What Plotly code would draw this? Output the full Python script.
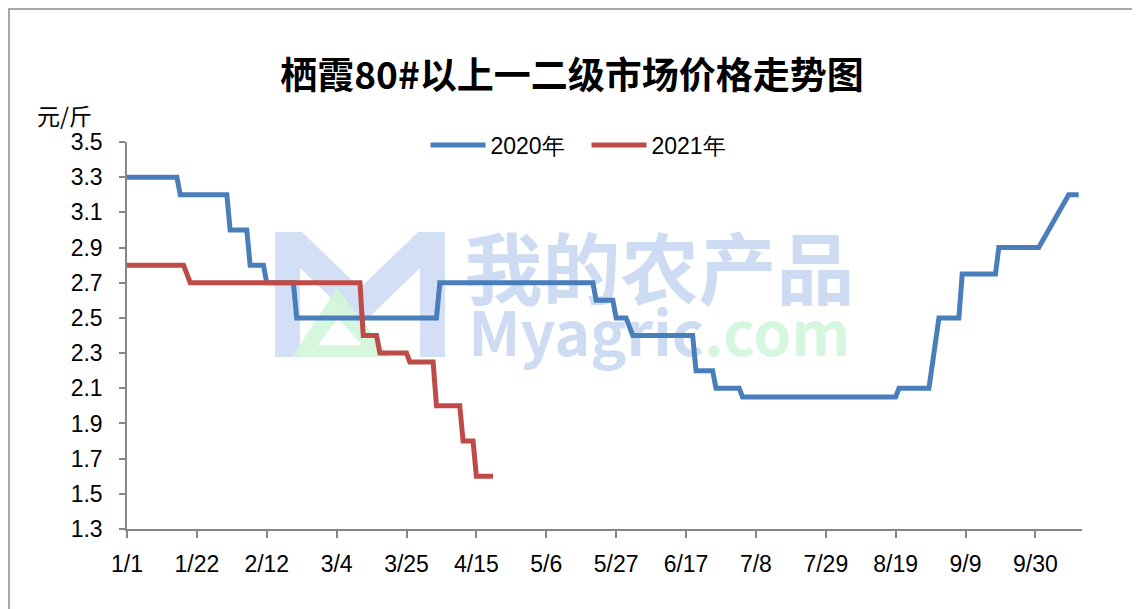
import plotly.graph_objects as go

# ---------------- data ----------------
year_axis = "2020"

dates_2020 = ["01-01", "01-16", "01-17", "01-31", "02-01", "02-06", "02-07", "02-11",
              "02-12", "02-20", "02-21", "04-03", "04-04", "05-20", "05-21", "05-26",
              "05-27", "05-30", "06-01", "06-19", "06-20", "06-25", "06-26", "07-03",
              "07-04", "08-19", "08-20", "08-29", "09-01", "09-07", "09-08", "09-18",
              "09-19", "10-01", "10-10", "10-13"]
values_2020 = [3.3, 3.3, 3.2, 3.2, 3.0, 3.0, 2.8, 2.8,
               2.7, 2.7, 2.5, 2.5, 2.7, 2.7, 2.6, 2.6,
               2.5, 2.5, 2.4, 2.4, 2.2, 2.2, 2.1, 2.1,
               2.05, 2.05, 2.1, 2.1, 2.5, 2.5, 2.75, 2.75,
               2.9, 2.9, 3.2, 3.2]

dates_2021 = ["01-01", "01-18", "01-20", "03-11", "03-12", "03-16", "03-17", "03-25",
              "03-26", "04-02", "04-03", "04-10", "04-11", "04-14", "04-15", "04-20"]
values_2021 = [2.8, 2.8, 2.7, 2.7, 2.4, 2.4, 2.3, 2.3,
               2.25, 2.25, 2.0, 2.0, 1.8, 1.8, 1.6, 1.6]

tick_dates = ["01-01", "01-22", "02-12", "03-04", "03-25", "04-15", "05-06",
              "05-27", "06-17", "07-08", "07-29", "08-19", "09-09", "09-30"]
tick_labels = ["1/1", "1/22", "2/12", "3/4", "3/25", "4/15", "5/6",
               "5/27", "6/17", "7/8", "7/29", "8/19", "9/9", "9/30"]

series_names = ["2020年", "2021年"]
title_text = "栖霞80#以上一二级市场价格走势图"
unit_text = "元/斤"

# ---------------- layout helpers ----------------
OFF = 8                      # page body margin
W, H = 1132, 601
L, R, T, B = 119, 58, 134, 80
PW, PH = W - L - R, H - T - B


def px2x(px):
    return (px - OFF - L) / PW


def py2y(py):
    return (H - B - (py - OFF)) / PH


def full(md):
    return f"{year_axis}-{md}"


BLUE = "#4a7ebb"
RED = "#be4b48"
AXIS = "#868686"
TICK_FONT = dict(family="Liberation Sans, Arial, sans-serif", size=23, color="#000000")

fig = go.Figure()

# watermark text (drawn beneath the lines), one two-line text element
watermark = ("<span style='font-size:78px'><b>我的农产品</b></span><br>"
             "<span style='font-size:61px'><b>Myagric"
             "<span style='color:rgba(205,245,215,0.9)'>.com</span></b></span>")
fig.add_trace(go.Scatter(
    x=[full("06-09")], y=[2.51],
    mode="text",
    text=[watermark],
    textfont=dict(family="Noto Sans CJK SC, sans-serif", size=44,
                  color="rgba(200,216,242,0.9)"),
    textposition="middle center",
    hoverinfo="skip", showlegend=False,
))

fig.add_trace(go.Scatter(
    x=[full(d) for d in dates_2020], y=values_2020,
    mode="lines", name=series_names[0],
    line=dict(color=BLUE, width=5, shape="linear"),
))
fig.add_trace(go.Scatter(
    x=[full(d) for d in dates_2021], y=values_2021,
    mode="lines", name=series_names[1],
    line=dict(color=RED, width=5, shape="linear"),
))


def poly(points):
    return "M " + " L ".join(f"{px2x(a):.5f},{py2y(b):.5f}" for a, b in points) + " Z"


shapes = [
    # outer border of the chart area
    dict(type="rect", xref="paper", yref="paper",
         x0=px2x(9), x1=px2x(1160), y0=py2y(640), y1=py2y(9),
         line=dict(color="#8c8c8c", width=1.5), fillcolor="rgba(0,0,0,0)", layer="below"),
    # watermark "M" logo
    dict(type="path", xref="paper", yref="paper", layer="below",
         path=poly([(275, 232), (302, 232), (360, 288), (418, 232), (445, 232), (445, 357),
                    (420, 357), (420, 268), (360, 326), (300, 268), (300, 357), (275, 357)]),
         fillcolor="rgba(205,220,243,0.9)", line=dict(width=0)),
    dict(type="path", xref="paper", yref="paper", layer="below",
         path=poly([(292, 357), (337, 288), (390, 357)]),
         fillcolor="rgba(210,246,218,0.9)", line=dict(width=0)),
    dict(type="path", xref="paper", yref="paper", layer="below",
         path=poly([(318, 345), (338, 318), (362, 345)]),
         fillcolor="white", line=dict(width=0)),
]

fig.update_layout(
    width=W, height=H,
    margin=dict(l=L, r=R, t=T, b=B, autoexpand=False),
    paper_bgcolor="white", plot_bgcolor="rgba(0,0,0,0)",
    title=dict(text=f"<b>{title_text}</b>", xref="container", yref="container",
               x=(572 - OFF) / W, y=1 - (76 - OFF) / H, xanchor="center", yanchor="middle",
               font=dict(family="Noto Sans CJK SC, sans-serif", size=37, color="#000000")),
    legend=dict(orientation="h", x=px2x(586.5), y=py2y(145), xanchor="center", yanchor="middle",
                font=dict(family="Liberation Sans, Arial, sans-serif", size=23, color="#000000"),
                bgcolor="rgba(0,0,0,0)", itemwidth=55, tracegroupgap=0,
                entrywidth=91, entrywidthmode="pixels"),
    showlegend=True,
    shapes=shapes,
    annotations=[dict(text=unit_text, xref="paper", yref="paper",
                      x=px2x(64), y=py2y(115), xanchor="center", yanchor="middle",
                      showarrow=False,
                      font=dict(family="Noto Sans CJK SC, sans-serif", size=23, color="#000000"))],
    xaxis=dict(
        type="date",
        range=[full("01-01"), full("10-14")],
        tickvals=[full(d) for d in tick_dates], ticktext=tick_labels,
        showgrid=False, zeroline=False,
        showline=True, linecolor=AXIS, linewidth=1.5,
        ticks="outside", ticklen=7, tickwidth=1.5, tickcolor=AXIS,
        tickfont=TICK_FONT, ticklabelstandoff=7,
    ),
    yaxis=dict(
        range=[1.3, 3.5], tick0=1.3, dtick=0.2, tickformat=".1f",
        showgrid=False, zeroline=False,
        showline=True, linecolor=AXIS, linewidth=1.5,
        ticks="outside", ticklen=6, tickwidth=1.5, tickcolor=AXIS,
        tickfont=TICK_FONT, ticklabelstandoff=12,
    ),
)

fig.write_html("out.html")
